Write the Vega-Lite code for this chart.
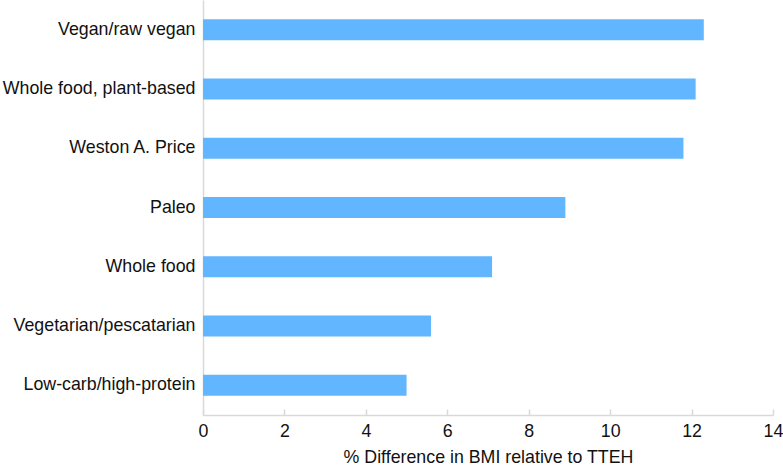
{
  "$schema": "https://vega.github.io/schema/vega-lite/v6.json",
  "width": 570,
  "height": 415,
  "autosize": {"type": "none"},
  "padding": {"left": 203, "top": 0, "right": 10, "bottom": 55},
  "background": "white",
  "config": {"view": {"stroke": null}, "font": "Liberation Sans"},
  "data": {
    "values": [
      {"diet": "Vegan/raw vegan", "value": 12.3},
      {"diet": "Whole food, plant-based", "value": 12.1},
      {"diet": "Weston A. Price", "value": 11.8},
      {"diet": "Paleo", "value": 8.9},
      {"diet": "Whole food", "value": 7.1},
      {"diet": "Vegetarian/pescatarian", "value": 5.6},
      {"diet": "Low-carb/high-protein", "value": 5.0}
    ]
  },
  "mark": {"type": "bar", "color": "#62B5FF"},
  "encoding": {
    "y": {
      "field": "diet",
      "type": "nominal",
      "sort": null,
      "scale": {"paddingInner": 0.646, "paddingOuter": 0.323},
      "axis": {
        "title": null,
        "ticks": false,
        "labelPadding": 8,
        "labelFontSize": 17.8,
        "labelColor": "#111",
        "labelLimit": 300,
        "domainColor": "#d9d9d9",
        "domainWidth": 1.5,
        "grid": false
      }
    },
    "x": {
      "field": "value",
      "type": "quantitative",
      "scale": {"domain": [0, 14], "nice": false},
      "axis": {
        "title": "% Difference in BMI relative to TTEH",
        "values": [0, 2, 4, 6, 8, 10, 12, 14],
        "grid": false,
        "labelFlush": false,
        "tickSize": -6,
        "tickColor": "#d9d9d9",
        "tickWidth": 1.5,
        "domainColor": "#d9d9d9",
        "domainWidth": 1.5,
        "labelFontSize": 17.8,
        "labelColor": "#111",
        "labelPadding": 13,
        "titleFontSize": 17.8,
        "titleFontWeight": "normal",
        "titleColor": "#111",
        "titlePadding": 9
      }
    }
  }
}
